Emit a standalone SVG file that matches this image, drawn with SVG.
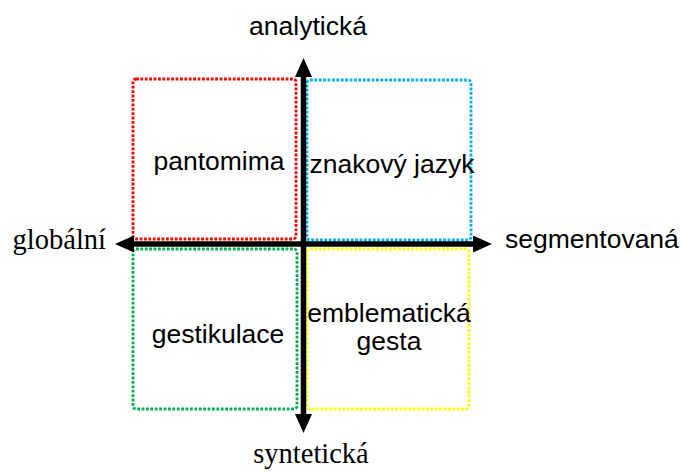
<svg xmlns="http://www.w3.org/2000/svg" width="681" height="472" viewBox="0 0 681 472">
<style>
.box{fill:none;stroke-width:2.8;stroke-dasharray:2.8 1.6}
.sans{font-family:"Liberation Sans",Arial,sans-serif;font-size:26.5px;fill:#000}
.serif{font-family:"Liberation Serif","Times New Roman",serif;font-size:28.5px;fill:#000}
.axis{stroke:#000;stroke-width:5.5;fill:none}
</style>
<defs>
<marker id="arr" markerUnits="userSpaceOnUse" markerWidth="20" markerHeight="18" refX="12" refY="8.5" orient="auto-start-reverse">
<path d="M0,0 L19,8.5 L0,17 z" fill="#000"/>
</marker>
</defs>
<rect width="681" height="472" fill="#fff"/>
<g id="pantomima">
<rect class="box" x="133" y="79" width="163" height="160" rx="3" stroke="#FF0000"/>
<text class="sans" x="219" y="170" text-anchor="middle">pantomima</text>
</g>
<g id="znakovy-jazyk">
<rect class="box" x="307" y="80" width="164" height="160" rx="3" stroke="#00B0F0"/>
<text class="sans" x="392" y="173" text-anchor="middle">znakový jazyk</text>
</g>
<g id="gestikulace">
<rect class="box" x="133" y="249" width="164" height="160" rx="3" stroke="#00B050"/>
<text class="sans" x="218" y="343" text-anchor="middle">gestikulace</text>
</g>
<g id="emblematicka-gesta">
<rect class="box" x="307" y="249" width="162" height="160" rx="3" stroke="#FFFF00"/>
<text class="sans" x="389" y="322" text-anchor="middle">emblematická</text>
<text class="sans" x="389" y="350" text-anchor="middle">gesta</text>
</g>
<g id="connectors">
<line class="axis" x1="303.5" y1="426" x2="303.5" y2="65" marker-start="url(#arr)" marker-end="url(#arr)"/>
<line class="axis" x1="122" y1="244" x2="485" y2="244" marker-start="url(#arr)" marker-end="url(#arr)"/>
</g>
<g id="labels">
<text class="sans" x="308" y="35" text-anchor="middle">analytická</text>
<text class="serif" x="311" y="463" text-anchor="middle">syntetická</text>
<text class="serif" x="106" y="249" text-anchor="end">globální</text>
<text class="sans" x="505" y="248">segmentovaná</text>
</g>
</svg>
